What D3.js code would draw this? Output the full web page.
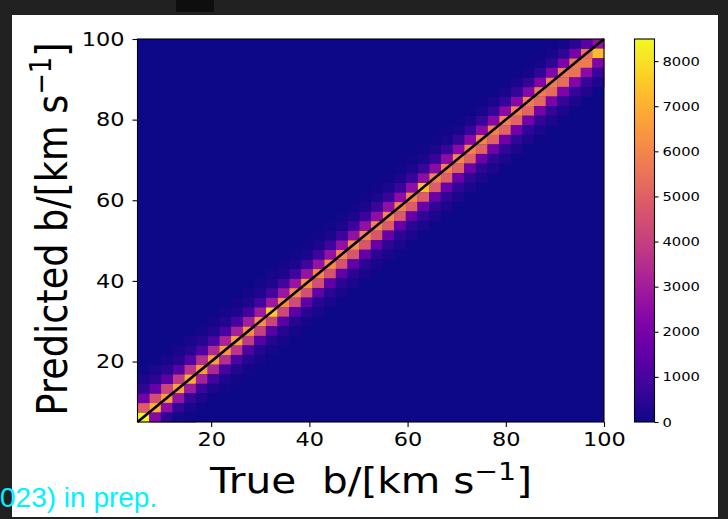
<!DOCTYPE html>
<html>
<head>
<meta charset="utf-8">
<script src="https://cdn.jsdelivr.net/npm/d3@7"></script>
<style>
  html, body { margin: 0; padding: 0; background: #212121; }
  svg { display: block; }
  text { font-family: "DejaVu Sans", sans-serif; }
</style>
</head>
<body>
<svg id="chart" width="728" height="519"></svg>
<script>
// 2D histogram of predicted vs true Doppler parameter b (km/s), 40x40 bins on [5, 100].
const binCount = 40;
const bRange = [5, 100];
const xTicks = [20, 40, 60, 80, 100];
const yTicks = [20, 40, 60, 80, 100];
const countTicks = [0, 1000, 2000, 3000, 4000, 5000, 6000, 7000, 8000];
const countMax = 8490;

// Counts per true-b bin (column), for predicted bin = true bin + offset.
const onDiag = [
  8450, 7050, 6650, 6700, 6950, 6500, 6600, 6450, 6700, 6300,
  6250, 7650, 6200, 6150, 6300, 6050, 6150, 6000, 6200, 5950,
  6050, 6100, 5900, 6000, 7300, 6000, 5900, 6050, 5900, 6000,
  5850, 5900, 5950, 5800, 5750, 5800, 5700, 5650, 5500, 2600];
const above1 = [
  4900, 4500, 4200, 3900, 3700, 3500, 3350, 3200, 3100, 3000,
  2950, 2850, 2800, 2750, 2700, 2700, 2650, 2600, 2650, 2600,
  2550, 2600, 2500, 2550, 2500, 2450, 2500, 2450, 2400, 2400,
  2350, 2400, 2300, 2300, 2250, 2200, 2100, 2000, 1300, null];
const below1 = [
  null, 2300, 2500, 2700, 2900, 3100, 3300, 3500, 3700, 3900,
  4100, 4200, 4300, 4400, 4500, 4500, 4600, 4600, 4700, 4700,
  4700, 4800, 4800, 4850, 4900, 4900, 4950, 5000, 5000, 5050,
  5050, 5100, 5100, 5150, 5200, 5300, 5400, 5500, 5700, 7200];
const above2 = [
  1900, 1600, 1400, 1300, 1200, 1100, 1050, 1000, 950, 900,
  880, 860, 840, 820, 800, 800, 780, 760, 750, 740,
  730, 720, 710, 700, 690, 680, 670, 660, 650, 640,
  630, 620, 600, 580, 560, 520, 480, 400, null, null];
const below2 = [
  null, null, 450, 550, 650, 750, 850, 950, 1050, 1150,
  1250, 1300, 1350, 1400, 1450, 1450, 1500, 1500, 1550, 1550,
  1600, 1600, 1650, 1650, 1700, 1700, 1750, 1750, 1800, 1800,
  1850, 1850, 1900, 1950, 2000, 2050, 2150, 2250, 2450, 2200];
const above3 = [
  500, 440, 390, 360, 330, 300, 280, 270, 260, 250,
  240, 235, 230, 225, 220, 215, 210, 205, 200, 200,
  195, 190, 185, 180, 175, 170, 165, 160, 155, 150,
  145, 140, 135, 130, 120, 110, 100, null, null, null];
const below3 = [
  null, null, null, 120, 150, 180, 210, 240, 270, 300,
  320, 340, 350, 360, 370, 380, 390, 400, 410, 420,
  430, 440, 450, 460, 470, 480, 490, 500, 510, 520,
  530, 540, 550, 560, 570, 580, 600, 620, 650, 700];
const above4 = [
  200, 180, 160, 150, 140, 130, 125, 120, 115, 110,
  105, 100, 100, 95, 95, 90, 90, 85, 85, 80,
  80, 80, 75, 75, 75, 70, 70, 65, 65, 60,
  60, 55, 50, 45, 40, 35, null, null, null, null];
const below4 = [
  null, null, null, null, 40, 50, 60, 70, 80, 90,
  100, 110, 120, 125, 130, 135, 140, 145, 150, 155,
  160, 165, 170, 170, 175, 180, 185, 190, 190, 195,
  200, 200, 205, 210, 215, 220, 225, 230, 240, 250];

const bands = [
  { offset: 0, counts: onDiag },
  { offset: 1, counts: above1 }, { offset: -1, counts: below1 },
  { offset: 2, counts: above2 }, { offset: -2, counts: below2 },
  { offset: 3, counts: above3 }, { offset: -3, counts: below3 },
  { offset: 4, counts: above4 }, { offset: -4, counts: below4 }
];

const cells = [];
bands.forEach(b => b.counts.forEach((v, i) => {
  const j = i + b.offset;
  if (v != null && j >= 0 && j < binCount) cells.push({ xi: i, yi: j, v });
}));

const svg = d3.select("#chart");
const W = 728, H = 519;
const sx = 1.15; // horizontal glyph stretch of the figure

// page frame
svg.append("rect").attr("width", W).attr("height", H).attr("fill", "#212121");
svg.append("rect").attr("x", 176).attr("y", 0).attr("width", 38).attr("height", 12).attr("fill", "#0e0e0e");
svg.append("rect").attr("x", 12).attr("y", 15).attr("width", 706).attr("height", 502).attr("fill", "#fff");

const plot = { left: 137.5, right: 604, top: 39, bottom: 422 };
const x = d3.scaleLinear().domain(bRange).range([plot.left, plot.right]);
const y = d3.scaleLinear().domain(bRange).range([plot.bottom, plot.top]);
const color = v => d3.interpolatePlasma(Math.max(0, Math.min(1, v / countMax)));
const binW = (bRange[1] - bRange[0]) / binCount;
const edge = k => bRange[0] + k * binW;

// heatmap
const g = svg.append("g");
g.append("rect")
  .attr("x", plot.left).attr("y", plot.top)
  .attr("width", plot.right - plot.left).attr("height", plot.bottom - plot.top)
  .attr("fill", color(0));
g.selectAll("rect.cell").data(cells).join("rect")
  .attr("class", "cell")
  .attr("x", d => x(edge(d.xi)))
  .attr("y", d => y(edge(d.yi + 1)))
  .attr("width", d => x(edge(d.xi + 1)) - x(edge(d.xi)) + 0.3)
  .attr("height", d => y(edge(d.yi)) - y(edge(d.yi + 1)) + 0.3)
  .attr("fill", d => color(d.v));

// one-to-one line
svg.append("line")
  .attr("x1", x(bRange[0])).attr("y1", y(bRange[0]))
  .attr("x2", x(bRange[1])).attr("y2", y(bRange[1]))
  .attr("stroke", "#000").attr("stroke-width", 2.6);

// spines
svg.append("rect")
  .attr("x", plot.left).attr("y", plot.top)
  .attr("width", plot.right - plot.left).attr("height", plot.bottom - plot.top)
  .attr("fill", "none").attr("stroke", "#000").attr("stroke-width", 1.1);

function stretchText(sel) {
  sel.each(function () {
    const t = d3.select(this);
    const tx = +t.attr("x") || 0;
    t.attr("x", tx / sx).attr("transform", `scale(${sx},1)`);
  });
}

// axes
const xAxis = svg.append("g").attr("transform", `translate(0,${plot.bottom})`)
  .call(d3.axisBottom(x).tickValues(xTicks).tickSize(5).tickPadding(5));
const yAxis = svg.append("g").attr("transform", `translate(${plot.left},0)`)
  .call(d3.axisLeft(y).tickValues(yTicks).tickSize(5).tickPadding(8));
[xAxis, yAxis].forEach(a => {
  a.select(".domain").remove();
  a.selectAll("line").attr("stroke", "#000").attr("stroke-width", 1.1);
  a.selectAll("text").attr("font-size", 19.5).attr("font-family", "DejaVu Sans").attr("fill", "#000");
  stretchText(a.selectAll("text"));
});

// axis titles with superscript unit
function unitTitle(sel, lead, size) {
  sel.attr("font-size", size).attr("fill", "#000")
    .attr("xml:space", "preserve").style("white-space", "pre");
  sel.append("tspan").text(lead + "b/[km s");
  sel.append("tspan").attr("font-size", size * 0.7).attr("dy", -size * 0.38).text("\u22121");
  sel.append("tspan").attr("dy", size * 0.38).text("]");
}
unitTitle(svg.append("text")
  .attr("text-anchor", "middle")
  .attr("transform", `translate(371,493) scale(${sx},1)`), "True  ", 35.3);
unitTitle(svg.append("text")
  .attr("text-anchor", "middle")
  .attr("transform", `translate(67,229) rotate(-90) scale(1,${sx})`), "Predicted ", 36.6);

// colorbar
const cb = { left: 634.5, width: 20 };
const cy = d3.scaleLinear().domain([0, countMax]).range([plot.bottom, plot.top]);
const grad = svg.append("defs").append("linearGradient")
  .attr("id", "cbgrad").attr("x1", 0).attr("y1", 1).attr("x2", 0).attr("y2", 0);
d3.range(0, 1.0001, 0.05).forEach(t =>
  grad.append("stop").attr("offset", t).attr("stop-color", d3.interpolatePlasma(t)));
svg.append("rect")
  .attr("x", cb.left).attr("y", plot.top)
  .attr("width", cb.width).attr("height", plot.bottom - plot.top)
  .attr("fill", "url(#cbgrad)").attr("stroke", "#000").attr("stroke-width", 1.1);
const cAxis = svg.append("g").attr("transform", `translate(${cb.left + cb.width},0)`)
  .call(d3.axisRight(cy).tickValues(countTicks).tickFormat(d3.format("d")).tickSize(4).tickPadding(4));
cAxis.select(".domain").remove();
cAxis.selectAll("line").attr("stroke", "#000").attr("stroke-width", 1.1);
cAxis.selectAll("text").attr("font-size", 12.8).attr("font-family", "DejaVu Sans").attr("fill", "#000");
stretchText(cAxis.selectAll("text"));

// citation fragment at lower left
svg.append("text")
  .attr("x", 0).attr("y", 507)
  .style("font-family", "'Liberation Sans', Arial, sans-serif")
  .style("font-size", "28px")
  .style("fill", "#00f2ff")
  .text("023) in prep.");
</script>
</body>
</html>
